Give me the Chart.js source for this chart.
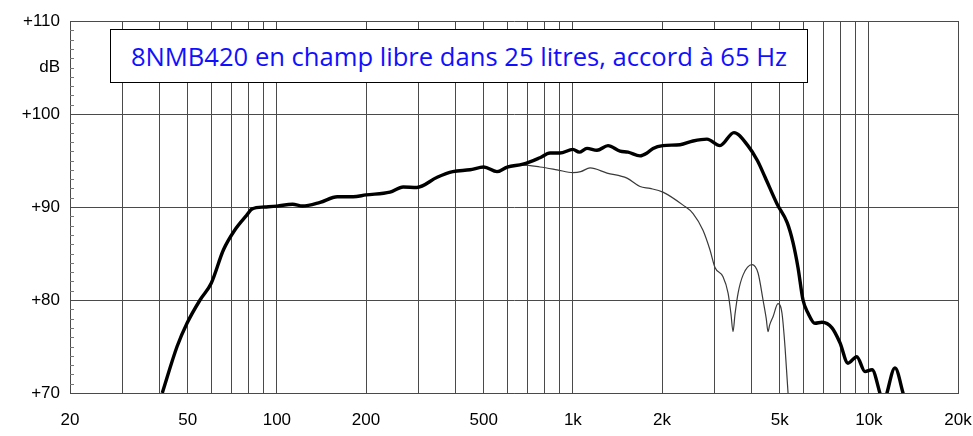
<!DOCTYPE html>
<html>
<head>
<meta charset="utf-8">
<script src="https://cdn.jsdelivr.net/npm/chart.js@4"></script>
<style>
  body { margin: 0; background: #fff; }
  #wrap { position: relative; width: 973px; height: 436px; }
  #titre {
    position: absolute; left: 110px; top: 29px; width: 696px; height: 52px;
    border: 1.5px solid #000; background: #fff;
    font-family: "Open Sans", "Noto Sans", sans-serif; color: #1010ff;
    display: flex; align-items: center; justify-content: center;
    white-space: nowrap;
  }
</style>
</head>
<body>
<div id="wrap">
  <canvas id="reponse"></canvas>
  <div id="titre"><span id="titreTexte">8NMB420 en champ libre dans 25 litres, accord à 65 Hz</span></div>
</div>
<script>
// Courbe principale (trait épais)
const freqAxe = [41, 46, 49.7, 55, 60, 66, 72, 79, 82.5, 91, 100, 113, 122, 140, 160, 181, 200, 241, 267, 297,
  348, 393, 449, 500, 554, 600, 678, 774, 837, 904, 1000, 1050, 1116, 1206, 1314, 1443, 1535, 1686, 1780, 1866,
  2014, 2302, 2547, 2838, 3140, 3500, 3900, 4200, 4460, 4900, 5300, 5540, 5760, 5990, 6226, 6574, 6943, 7505,
  7985, 8498, 9100, 9704, 10245, 10890, 11200, 11510, 12250, 13040, 13400];
const dbAxe = [70.0, 75.0, 77.5, 80.0, 81.8, 85.4, 87.5, 89.1, 89.8, 90.0, 90.1, 90.3, 90.1, 90.5, 91.1, 91.1, 91.3, 91.6, 92.15, 92.1,
  93.2, 93.8, 94.0, 94.3, 93.8, 94.3, 94.6, 95.3, 95.8, 95.8, 96.2, 95.9, 96.3, 96.1, 96.6, 96.0, 95.9, 95.5, 95.8, 96.3,
  96.6, 96.7, 97.1, 97.3, 96.6, 98.0, 96.6, 95.0, 93.2, 90.3, 88.3, 86.2, 83.5, 80.0, 78.6, 77.5, 77.6, 77.0,
  75.4, 73.2, 73.9, 72.3, 72.5, 70.0, 68.5, 70.0, 72.7, 70.0, 68.5];

// Courbe hors axe (trait fin)
const freqHorsAxe = [400, 449, 500, 554, 600, 678, 774, 884, 1000, 1063, 1143, 1304, 1523, 1686, 1822, 2014, 2356,
  2547, 2751, 2904, 3020, 3215, 3344, 3420, 3475, 3530, 3615, 3759, 4028, 4222, 4389, 4500, 4562, 4620, 4744, 4931,
  5085, 5209, 5332, 5400];
const dbHorsAxe = [93.8, 94.0, 94.3, 93.8, 94.3, 94.5, 94.3, 94.0, 93.7, 93.8, 94.2, 93.65, 93.1, 92.2, 92.0, 91.6, 90.2,
  89.3, 87.5, 85.4, 83.5, 82.5, 80.75, 78.5, 76.6, 78.5, 80.75, 82.7, 83.8, 82.9, 80.0, 78.0, 76.6, 77.3, 78.2, 79.6,
  78.6, 74.9, 70.0, 68.0];

const ticksFreq = [20, 30, 40, 50, 60, 70, 80, 90, 100, 200, 300, 400, 500, 600, 700, 800, 900,
  1000, 2000, 3000, 4000, 5000, 6000, 7000, 8000, 9000, 10000, 20000];
const etiquettesFreq = { 20: '20', 50: '50', 100: '100', 200: '200', 500: '500', 1000: '1k',
  2000: '2k', 5000: '5k', 10000: '10k', 20000: '20k' };
const etiquettesDb = { 70: '+70', 80: '+80', 90: '+90', 100: '+100', 105: 'dB', 110: '+110' };

const couleurGrille = '#4a4a4a';

// petites graduations de 1 dB sur le bord gauche
const graduations = {
  id: 'graduations',
  afterDraw(chart) {
    const ctx = chart.ctx;
    const y = chart.scales.y;
    const gauche = chart.chartArea.left;
    ctx.save();
    ctx.strokeStyle = '#777';
    ctx.lineWidth = 1;
    for (let v = y.min + 1; v < y.max; v++) {
      if (v % 10 === 0) continue;
      const py = Math.round(y.getPixelForValue(v)) + 0.5;
      ctx.beginPath();
      ctx.moveTo(gauche, py);
      ctx.lineTo(gauche + 4, py);
      ctx.stroke();
    }
    ctx.restore();
  }
};

new Chart(document.getElementById('reponse'), {
  type: 'line',
  data: {
    datasets: [{
      data: freqAxe.map((f, i) => ({ x: f, y: dbAxe[i] })),
      borderColor: '#000',
      borderWidth: 3.4,
      pointRadius: 0,
      cubicInterpolationMode: 'monotone',
      order: 0
    }, {
      data: freqHorsAxe.map((f, i) => ({ x: f, y: dbHorsAxe[i] })),
      borderColor: '#3a3a3a',
      borderWidth: 1.2,
      pointRadius: 0,
      cubicInterpolationMode: 'monotone',
      order: 1
    }]
  },
  options: {
    responsive: true,
    maintainAspectRatio: false,
    animation: false,
    layout: { padding: { top: 21, right: 15, left: 0, bottom: 0 } },
    plugins: { legend: { display: false }, tooltip: { enabled: false } },
    scales: {
      x: {
        type: 'logarithmic',
        min: 20,
        max: 20000,
        afterBuildTicks: (axis) => { axis.ticks = ticksFreq.map(v => ({ value: v })); },
        afterFit: (axis) => {
          axis.height = 43;
          axis.paddingRight = 0;
          axis.paddingLeft = 0;
        },
        grid: { color: couleurGrille, lineWidth: 1, drawTicks: false },
        border: { color: couleurGrille },
        ticks: {
          autoSkip: false,
          maxRotation: 0,
          padding: 17,
          color: '#000',
          font: { family: 'Liberation Sans, Arial, sans-serif', size: 17 },
          callback: (v) => etiquettesFreq[v] || ''
        }
      },
      y: {
        min: 70,
        max: 110,
        afterFit: (axis) => { axis.width = 70; },
        grid: {
          color: (c) => (c.tick && c.tick.value % 10 === 0) ? couleurGrille : 'rgba(0,0,0,0)',
          lineWidth: 1,
          drawTicks: false
        },
        border: { color: couleurGrille },
        ticks: {
          stepSize: 5,
          padding: 10,
          color: '#000',
          font: { family: 'Liberation Sans, Arial, sans-serif', size: 17 },
          callback: (v) => etiquettesDb[v] || ''
        }
      }
    }
  },
  plugins: [graduations]
});

// ajuster la taille du titre à la largeur de l'original
const span = document.getElementById('titreTexte');
let taille = 20;
span.style.fontSize = taille + 'px';
taille = taille * 657 / span.getBoundingClientRect().width;
span.style.fontSize = taille.toFixed(1) + 'px';
</script>
</body>
</html>
